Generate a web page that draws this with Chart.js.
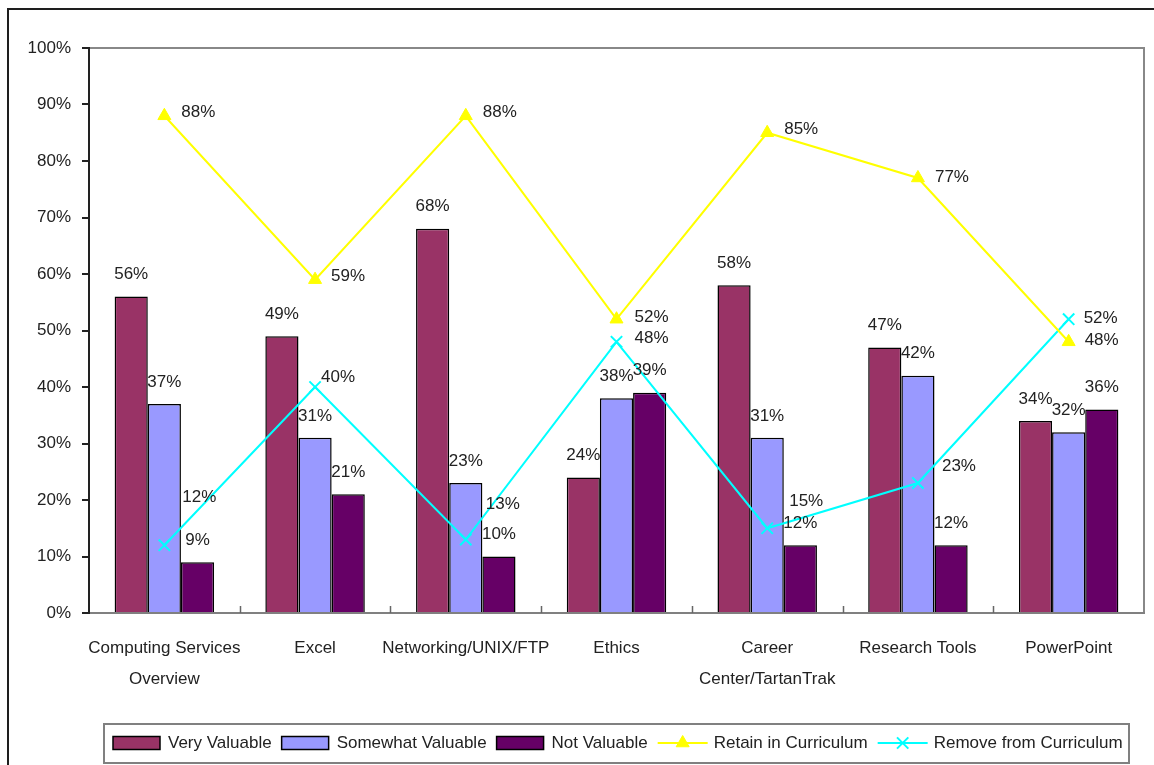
<!DOCTYPE html>
<html>
<head>
<meta charset="utf-8">
<script src="https://cdn.jsdelivr.net/npm/chart.js@4.4.1/dist/chart.umd.min.js"></script>
<style>
  html, body { margin: 0; padding: 0; background: #fff; overflow: hidden; }
  #wrap { width: 1154px; height: 765px; position: relative; }
</style>
</head>
<body>
<div id="wrap"><canvas id="c" width="1154" height="765"></canvas></div>
<script>
// Course module ratings
const categories = [
  ['Computing Services', 'Overview'],
  'Excel',
  'Networking/UNIX/FTP',
  'Ethics',
  ['Career', 'Center/TartanTrak'],
  'Research Tools',
  'PowerPoint'
];
const veryValuable         = [56, 49, 68, 24, 58, 47, 34];
const somewhatValuable     = [37, 31, 23, 38, 31, 42, 32];
const notValuable          = [9, 21, 10, 39, 12, 12, 36];
const retainInCurriculum   = [88, 59, 88, 52, 85, 77, 48];
const removeFromCurriculum = [12, 40, 13, 48, 15, 23, 52];
const yTickValues = [0, 10, 20, 30, 40, 50, 60, 70, 80, 90, 100];

// Label placement for the line series: [dx, dy] from each point
const retainLabelOffset = [[17, -3], [16, -3], [17, -3], [18, -2], [17, -3], [17, -1], [16, -1]];
const removeLabelOffset = [[18, -48], [6, -10], [20, -35], [18, -3], [22, -27], [24, -17], [15, -1]];

const FONT = "'Liberation Sans', Arial, sans-serif";
const FSIZE = 17;
const TEXT = '#222';

const pct = v => v + '%';

// background, outer frame and plot frame
const framePlugin = {
  id: 'framePlugin',
  beforeDraw(chart) {
    const { ctx, chartArea: a } = chart;
    ctx.save();
    ctx.fillStyle = '#fff';
    ctx.fillRect(0, 0, chart.width, chart.height);
    ctx.strokeStyle = '#1e1e1e';
    ctx.lineWidth = 2;
    ctx.beginPath();
    ctx.moveTo(8, chart.height + 5);
    ctx.lineTo(8, 9);
    ctx.lineTo(chart.width + 5, 9);
    ctx.stroke();
    ctx.strokeStyle = '#888';
    ctx.lineWidth = 2;
    ctx.beginPath();
    ctx.moveTo(a.left, a.top);
    ctx.lineTo(a.right, a.top);
    ctx.lineTo(a.right, a.bottom);
    ctx.stroke();
    ctx.restore();
  },
  beforeDatasetsDraw(chart) {
    // short inward tick marks between categories
    const { ctx, chartArea: a } = chart;
    const xs = chart.scales.x;
    const n = xs.ticks.length;
    ctx.save();
    ctx.strokeStyle = '#666';
    ctx.lineWidth = 1.5;
    ctx.beginPath();
    for (let i = 0; i < n - 1; i++) {
      const bx = (xs.getPixelForTick(i) + xs.getPixelForTick(i + 1)) / 2;
      ctx.moveTo(Math.round(bx) + 0.5, a.bottom);
      ctx.lineTo(Math.round(bx) + 0.5, a.bottom - 7);
    }
    ctx.stroke();
    ctx.restore();
  }
};

// value labels on bars and line points
const valueLabels = {
  id: 'valueLabels',
  afterDatasetsDraw(chart) {
    const { ctx } = chart;
    ctx.save();
    ctx.font = FSIZE + 'px ' + FONT;
    ctx.fillStyle = TEXT;
    ctx.textBaseline = 'middle';
    chart.data.datasets.forEach((ds, di) => {
      const meta = chart.getDatasetMeta(di);
      meta.data.forEach((el, i) => {
        const txt = pct(ds.data[i]);
        if (ds.type === 'line') {
          const off = ds.labelOffset[i];
          ctx.textAlign = 'left';
          ctx.fillText(txt, el.x + off[0], el.y + off[1]);
        } else {
          ctx.textAlign = 'center';
          ctx.fillText(txt, el.x, el.y - 22);
        }
      });
    });
    ctx.restore();
  }
};

// boxed legend beneath the category labels
const boxLegend = {
  id: 'boxLegend',
  afterDraw(chart) {
    const { ctx } = chart;
    const box = { left: 104, top: 724, right: 1129, bottom: 763 };
    ctx.save();
    ctx.strokeStyle = '#808080';
    ctx.lineWidth = 2;
    ctx.strokeRect(box.left, box.top, box.right - box.left, box.bottom - box.top);
    ctx.font = FSIZE + 'px ' + FONT;
    ctx.textBaseline = 'middle';
    ctx.textAlign = 'left';
    const cy = (box.top + box.bottom) / 2 - 0.5;
    let x = 113;
    chart.data.datasets.forEach(ds => {
      if (ds.type === 'line') {
        ctx.strokeStyle = ds.borderColor;
        ctx.lineWidth = 2;
        ctx.beginPath();
        ctx.moveTo(x, cy);
        ctx.lineTo(x + 50, cy);
        ctx.stroke();
        ctx.fillStyle = ds.pointBackgroundColor;
        ctx.strokeStyle = ds.pointBorderColor;
        ctx.lineWidth = ds.pointBorderWidth;
        Chart.helpers.drawPoint(ctx, {
          pointStyle: ds.pointStyle,
          radius: ds.pointRadius,
          borderWidth: ds.pointBorderWidth
        }, x + 25, cy);
        x += 56;
      } else {
        ctx.fillStyle = ds.backgroundColor;
        ctx.fillRect(x, cy - 6.5, 47, 13);
        ctx.strokeStyle = '#000';
        ctx.lineWidth = 1.5;
        ctx.strokeRect(x, cy - 6.5, 47, 13);
        x += 55;
      }
      ctx.fillStyle = TEXT;
      ctx.fillText(ds.label, x, cy);
      x += ctx.measureText(ds.label).width + 10;
    });
    ctx.restore();
  }
};

const barStyle = { borderColor: '#000', borderWidth: 1.5, categoryPercentage: 0.66, barPercentage: 1.0, order: 2 };

new Chart(document.getElementById('c'), {
  data: {
    labels: categories,
    datasets: [
      Object.assign({ type: 'bar', label: 'Very Valuable', data: veryValuable, backgroundColor: '#993366' }, barStyle),
      Object.assign({ type: 'bar', label: 'Somewhat Valuable', data: somewhatValuable, backgroundColor: '#9999FF' }, barStyle),
      Object.assign({ type: 'bar', label: 'Not Valuable', data: notValuable, backgroundColor: '#660066' }, barStyle),
      {
        type: 'line', label: 'Retain in Curriculum', data: retainInCurriculum,
        borderColor: '#FFFF00', borderWidth: 2, tension: 0,
        pointStyle: 'triangle', pointRadius: 7.5, pointBackgroundColor: '#FFFF00', pointBorderColor: '#FFFF00', pointBorderWidth: 1,
        order: 0, labelOffset: retainLabelOffset
      },
      {
        type: 'line', label: 'Remove from Curriculum', data: removeFromCurriculum,
        borderColor: '#00FFFF', borderWidth: 2, tension: 0,
        pointStyle: 'crossRot', pointRadius: 8, pointBackgroundColor: '#00FFFF', pointBorderColor: '#00FFFF', pointBorderWidth: 2,
        order: 1, labelOffset: removeLabelOffset
      }
    ]
  },
  options: {
    responsive: false,
    animation: false,
    devicePixelRatio: 1,
    layout: { padding: { left: 0, top: 48, right: 7, bottom: 0 } },
    plugins: { legend: { display: false }, tooltip: { enabled: false } },
    scales: {
      x: {
        offset: true,
        grid: { display: false },
        border: { display: true, color: '#808080', width: 2 },
        ticks: {
          color: TEXT, padding: 12, maxRotation: 0, autoSkip: false,
          font: { family: FONT, size: FSIZE, lineHeight: 1.82 }
        },
        afterFit(scale) { scale.height = 152; }
      },
      y: {
        min: 0, max: 100,
        afterBuildTicks(scale) { scale.ticks = yTickValues.map(v => ({ value: v })); },
        grid: { display: true, drawOnChartArea: false, drawTicks: true, tickLength: 7, color: '#222', lineWidth: 2 },
        border: { display: true, color: '#222', width: 2 },
        ticks: {
          color: TEXT, padding: 11,
          font: { family: FONT, size: FSIZE },
          callback: v => pct(v)
        },
        afterFit(scale) { scale.width = 89; }
      }
    }
  },
  plugins: [framePlugin, valueLabels, boxLegend]
});
</script>
</body>
</html>
